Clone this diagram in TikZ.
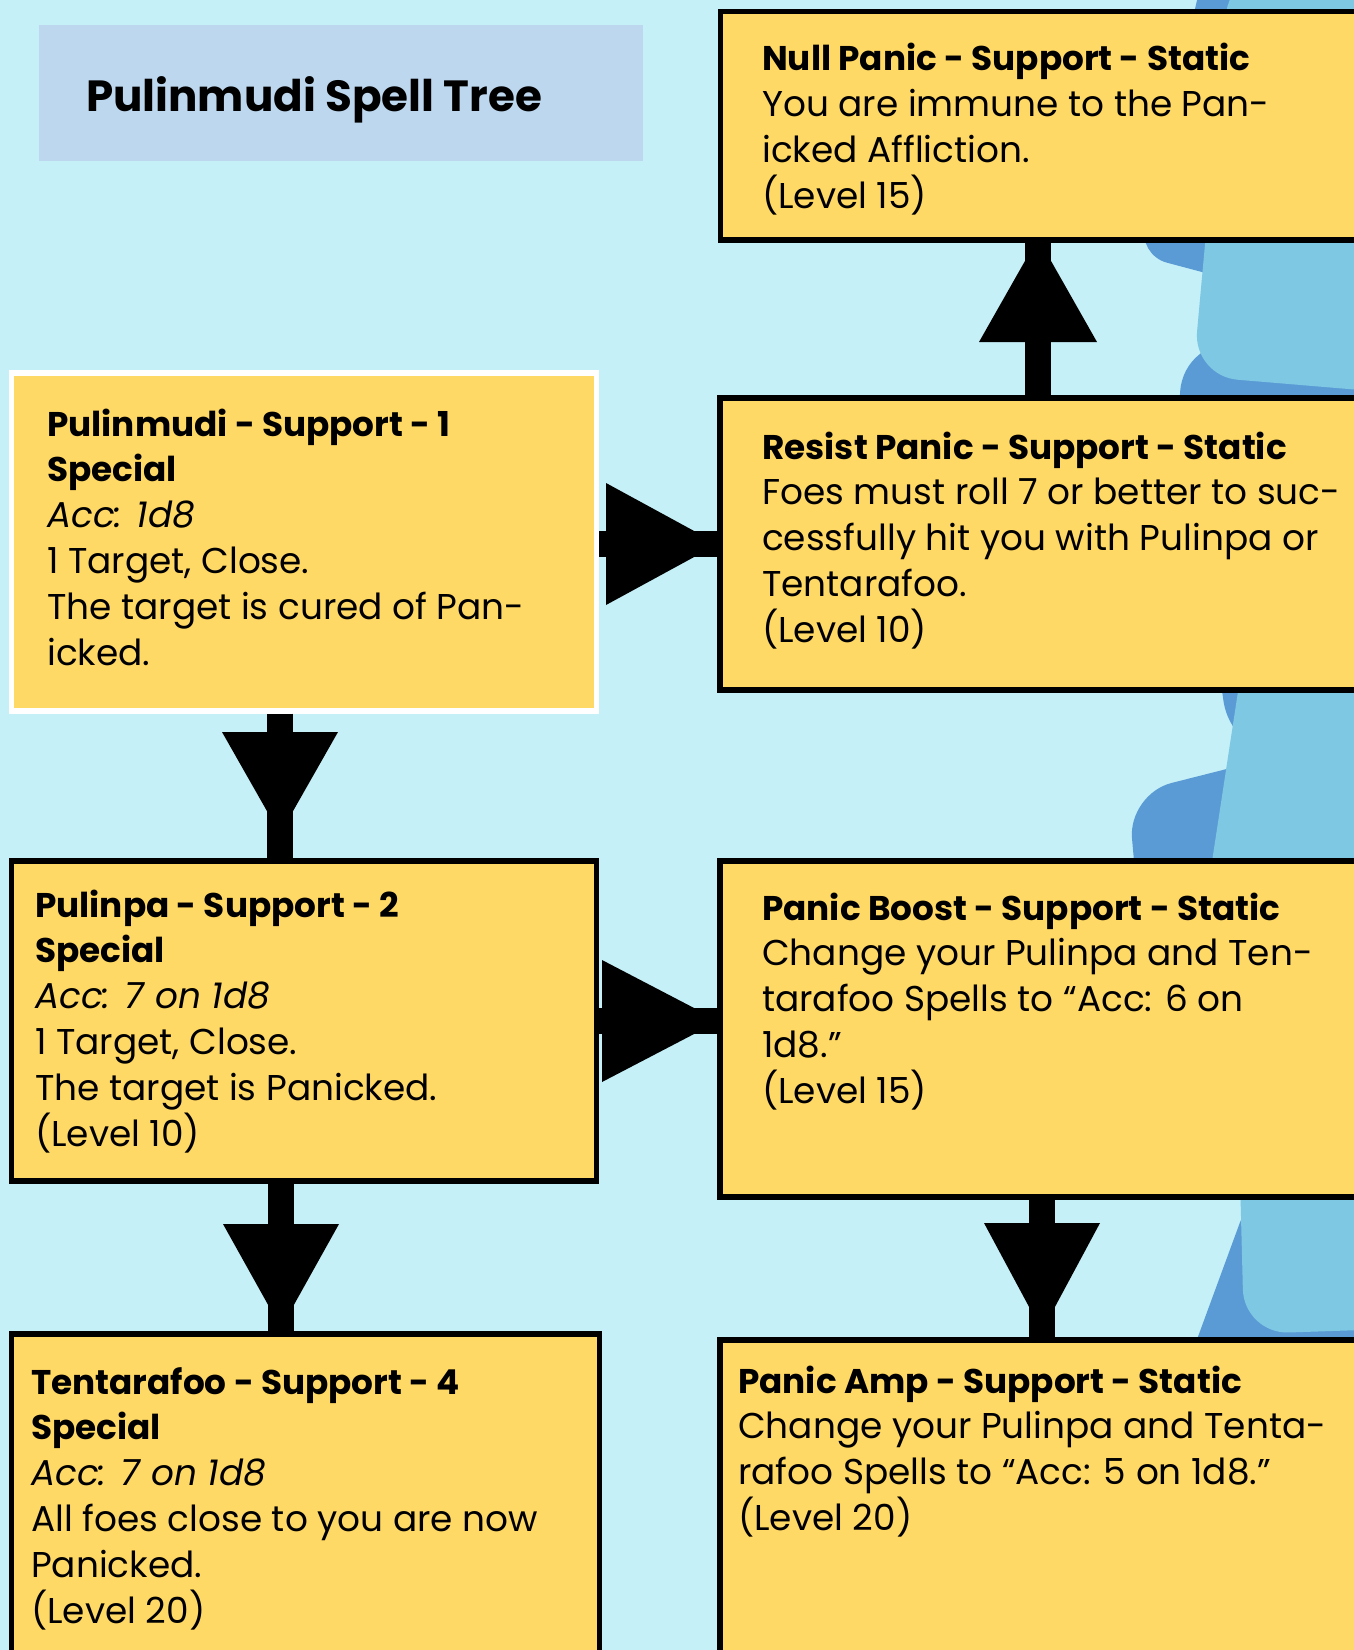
\documentclass[tikz,border=0pt]{standalone}
\usepackage{fontspec}
\setmainfont{Poppins}
\usetikzlibrary{calc}
\definecolor{bgc}{HTML}{C5F0F7}
\definecolor{titlec}{HTML}{BDD7EE}
\definecolor{ycol}{HTML}{FFD966}
\definecolor{darkb}{HTML}{5B9BD5}
\definecolor{lightb}{HTML}{7EC8E3}
\newcommand{\boxtext}[1]{\parbox[t]{700bp}{\raggedright #1}}
\newcommand{\hd}[1]{{\fontsize{34.4}{46}\selectfont\bfseries #1}}
\begin{document}
\begin{tikzpicture}[x=1bp,y=-1bp,
  ybox/.style={draw=black, line width=5.5bp, fill=ycol, inner sep=0pt, anchor=north west},
  wbox/.style={ybox, draw=white},
  txt/.style={anchor=base west, inner sep=0pt, font=\fontsize{36}{46}\selectfont},
  conn/.style={line width=26bp, draw=black},
  headfill/.style={fill=black}]
\useasboundingbox (0,0) rectangle (1354,1650);
\clip (0,0) rectangle (1354,1650);
\fill[bgc] (0,0) rectangle (1354,1650);
% decorative blue shapes
\fill[darkb, rounded corners=30] (1204,-30) -- (1138,255) -- (1420,330) -- (1420,-30) -- cycle;
\fill[darkb, rounded corners=60] (1172,345) -- (1232,760) -- (1420,760) -- (1420,335) -- cycle;
\fill[darkb, rounded corners=45] (1420,720) -- (1128,794) -- (1142,950) -- (1420,950) -- cycle;
\fill[darkb, rounded corners=30] (1185,1372) -- (1250,1195) -- (1420,1195) -- (1420,1372) -- cycle;
\fill[lightb, rounded corners=45] (1230,-30) -- (1193,376) -- (1420,395) -- (1420,-30) -- cycle;
\fill[lightb] (1252,600) -- (1200,940) -- (1420,940) -- (1420,600) -- cycle;
\fill[lightb, rounded corners=45] (1238,1100) -- (1244,1334) -- (1420,1328) -- (1420,1100) -- cycle;
% title
\node[fill=titlec, minimum width=604bp, minimum height=136bp, inner sep=0pt, anchor=north west] (titlebox) at (39,25) {};
\node[anchor=base west, inner sep=0pt, font=\fontsize{43.8}{55}\selectfont\bfseries] (title) at (86,111) {Pulinmudi Spell Tree};
% boxes
\node[ybox, minimum width=700bp, minimum height=228bp] (null) at (717.5,9) {};
\node[ybox, minimum width=700bp, minimum height=292bp] (resist) at (717,395) {};
\node[ybox, minimum width=700bp, minimum height=336bp] (boost) at (717,858) {};
\node[ybox, minimum width=700bp, minimum height=400bp] (amp) at (717,1337) {};
\node[wbox, minimum width=585bp, minimum height=338bp] (pulinmudi) at (8.7,370) {};
\node[ybox, minimum width=585bp, minimum height=320bp] (pulinpa) at (8.7,858) {};
\node[ybox, minimum width=588bp, minimum height=400bp] (tent) at (8.7,1331) {};
% texts
\node[txt] (nulltxt) at (762,71) {\boxtext{\hd{Null Panic - Support - Static}\\You are immune to the Pan-\\icked Affliction.\\(Level 15)}};
\node[txt] (resisttxt) at (762,459) {\boxtext{\hd{Resist Panic - Support - Static}\\Foes must roll 7 or better to suc-\\cessfully hit you with Pulinpa or\\Tentarafoo.\\(Level 10)}};
\node[txt] (boosttxt) at (762,920) {\boxtext{\hd{Panic Boost - Support - Static}\\Change your Pulinpa and Ten-\\tarafoo Spells to “Acc: 6 on\\1d8.”\\(Level 15)}};
\node[txt] (amptxt) at (738,1393) {\boxtext{\hd{Panic Amp - Support - Static}\\Change your Pulinpa and Tenta-\\rafoo Spells to “Acc: 5 on 1d8.”\\(Level 20)}};
\node[txt] (pulinmuditxt) at (47,436) {\boxtext{\hd{Pulinmudi - Support - 1}\\\hd{Special}\\\textit{Acc: 1d8}\\1 Target, Close.\\The target is cured of Pan-\\icked.}};
\node[txt] (pulinpatxt) at (35,917) {\boxtext{\hd{Pulinpa - Support - 2}\\\hd{Special}\\\textit{Acc: 7 on 1d8}\\1 Target, Close.\\The target is Panicked.\\(Level 10)}};
\node[txt] (tenttxt) at (31,1394) {\boxtext{\hd{Tentarafoo - Support - 4}\\\hd{Special}\\\textit{Acc: 7 on 1d8}\\All foes close to you are now\\Panicked.\\(Level 20)}};
% arrow apex coordinates
\coordinate (a1) at (1038,238);
\coordinate (a2) at (718,544);
\coordinate (a3) at (280,834);
\coordinate (a4) at (281,1328);
\coordinate (a5) at (719,1021);
\coordinate (a6) at (1042,1331);
% connectors
\draw[conn] (resist.north -| a1) -- (null.south -| a1);
\fill[headfill] (a1) -- ++(-59,104) -- ++(118,0) -- cycle;
\draw[conn] (pulinmudi.east |- a2) -- (resist.west |- a2);
\fill[headfill] (a2) -- ++(-112,-61) -- ++(0,122) -- cycle;
\draw[conn] (pulinmudi.south -| a3) -- (pulinpa.north -| a3);
\fill[headfill] (a3) -- ++(-58,-102) -- ++(116,0) -- cycle;
\draw[conn] (pulinpa.south -| a4) -- (tent.north -| a4);
\fill[headfill] (a4) -- ++(-58,-104) -- ++(116,0) -- cycle;
\draw[conn] (pulinpa.east |- a5) -- (boost.west |- a5);
\fill[headfill] (a5) -- ++(-117,-61) -- ++(0,122) -- cycle;
\draw[conn] (boost.south -| a6) -- (amp.north -| a6);
\fill[headfill] (a6) -- ++(-58,-108) -- ++(116,0) -- cycle;
\end{tikzpicture}
\end{document}
